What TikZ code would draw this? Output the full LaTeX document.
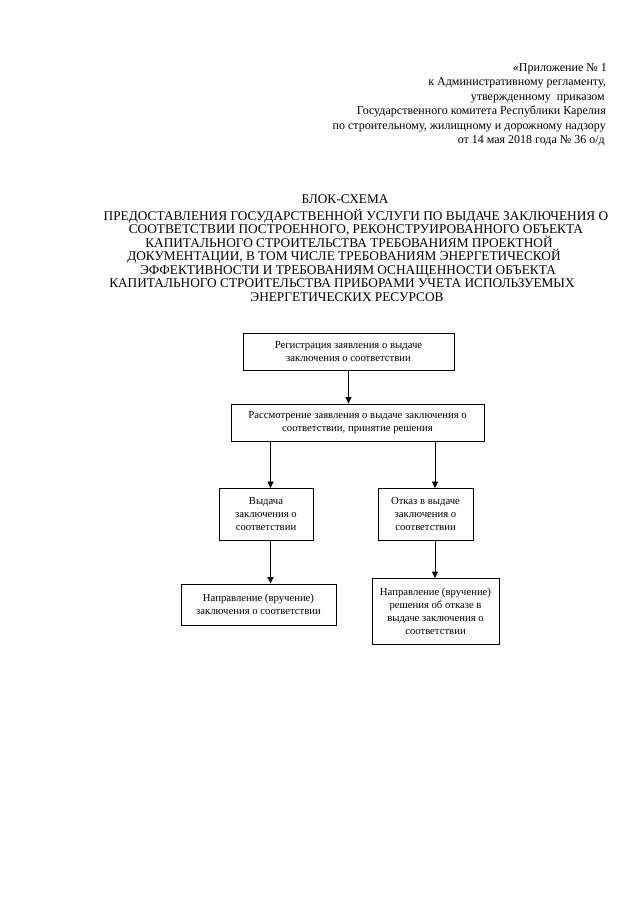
\documentclass[tikz,border=0pt]{standalone}
\usepackage{fontspec}
\setmainfont{Liberation Serif}
\usetikzlibrary{arrows.meta}
\begin{document}
\begin{tikzpicture}[x=1pt,y=-1pt,
  hdr/.style={inner sep=0pt,anchor=base east,font=\fontsize{12}{14.4}\selectfont},
  ttl/.style={inner sep=0pt,anchor=base,font=\fontsize{13.3}{13.5}\selectfont},
  blk/.style={draw,line width=0.9pt,inner sep=0pt,align=center,font=\fontsize{10.7}{13}\selectfont},
  arr/.style={line width=0.8pt,-{Triangle[length=6.5pt,width=6pt]}}]
\useasboundingbox[fill=white] (0,0) rectangle (640,905);
% header
\node[hdr] (h1) at (607,71) {«Приложение № 1};
\node[hdr] (h2) at (606,85.5) {к Административному регламенту,};
\node[hdr] (h3) at (605,100) {утвержденному \ приказом};
\node[hdr] (h4) at (606,114.5) {Государственного комитета Республики Карелия};
\node[hdr] (h5) at (606,129) {по строительному, жилищному и дорожному надзору};
\node[hdr] (h6) at (605,143.5) {от 14 мая 2018 года № 36 о/д};
% title
\node[ttl] (t0) at (345,203) {БЛОК-СХЕМА};
\node[ttl] (t1) at (356,220) {ПРЕДОСТАВЛЕНИЯ ГОСУДАРСТВЕННОЙ УСЛУГИ ПО ВЫДАЧЕ ЗАКЛЮЧЕНИЯ О};
\node[ttl] (t2) at (356,233.5) {СООТВЕТСТВИИ ПОСТРОЕННОГО, РЕКОНСТРУИРОВАННОГО ОБЪЕКТА};
\node[ttl] (t3) at (349,247) {КАПИТАЛЬНОГО СТРОИТЕЛЬСТВА ТРЕБОВАНИЯМ ПРОЕКТНОЙ};
\node[ttl] (t4) at (344,260.5) {ДОКУМЕНТАЦИИ, В ТОМ ЧИСЛЕ ТРЕБОВАНИЯМ ЭНЕРГЕТИЧЕСКОЙ};
\node[ttl] (t5) at (348,274) {ЭФФЕКТИВНОСТИ И ТРЕБОВАНИЯМ ОСНАЩЕННОСТИ ОБЪЕКТА};
\node[ttl] (t6) at (342,287.5) {КАПИТАЛЬНОГО СТРОИТЕЛЬСТВА ПРИБОРАМИ УЧЕТА ИСПОЛЬЗУЕМЫХ};
\node[ttl] (t7) at (347,301) {ЭНЕРГЕТИЧЕСКИХ РЕСУРСОВ};
% boxes
\node[blk,minimum width=211pt,minimum height=37pt] (b1) at (348.5,351.5)
  {Регистрация заявления о выдаче\\заключения о соответствии};
\node[blk,minimum width=253pt,minimum height=37pt] (b2) at (357.5,422.5)
  {Рассмотрение заявления о выдаче заключения о\\соответствии, принятие решения};
\node[blk,minimum width=94pt,minimum height=52pt] (b3) at (266,514.5)
  {Выдача\\заключения о\\соответствии};
\node[blk,minimum width=95pt,minimum height=52pt] (b4) at (425.5,514.5)
  {Отказ в выдаче\\заключения о\\соответствии};
\node[blk,minimum width=155pt,minimum height=41pt] (b5) at (258.5,604.5)
  {Направление (вручение)\\заключения о соответствии};
\node[blk,minimum width=127pt,minimum height=66pt] (b6) at (435.5,611.5)
  {Направление (вручение)\\решения об отказе в\\выдаче заключения о\\соответствии};
% arrow columns
\coordinate (xL) at (270.5,0);
\coordinate (xR) at (435,0);
\draw[arr] (b1.south) -- (b1.south |- b2.north);
\draw[arr] (b2.south -| xL) -- (b3.north -| xL);
\draw[arr] (b2.south -| xR) -- (b4.north -| xR);
\draw[arr] (b3.south -| xL) -- (b5.north -| xL);
\draw[arr] (b4.south -| xR) -- (b6.north -| xR);
\end{tikzpicture}
\end{document}
